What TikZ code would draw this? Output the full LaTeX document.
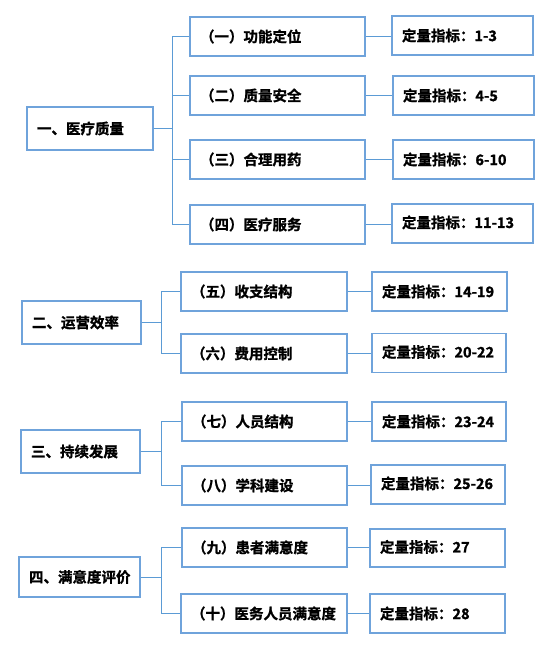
\documentclass[tikz,border=0pt]{standalone}
\usepackage{fontspec}
\setmainfont{Noto Sans CJK SC Bold}
\newfontfamily\cjkbold[FakeBold=1.2]{Noto Sans CJK SC Bold}
\definecolor{boxblue}{HTML}{6FA3DB}
\definecolor{lineblue}{HTML}{5B9BD5}
\tikzset{
  bx/.style={draw=boxblue, line width=1.5pt, rectangle, inner sep=0pt, inner xsep=10pt,
    minimum height=39pt, align=left, font=\cjkbold\fontsize{14.5}{16}\selectfont},
  mainbox/.style={bx, minimum height=43pt},
  conn/.style={draw=lineblue, line width=1pt}
}
\newcommand{\up}[1]{\raisebox{3.5pt}{#1}}
\begin{document}
\begin{tikzpicture}[x=1pt,y=-1pt]
\useasboundingbox (0,0) rectangle (551,667);
% group 1
\node[mainbox, text width=106pt, minimum width=126pt] (M1) at (90,128.5) {一、医疗质量};
\node[bx, text width=155pt, minimum width=175pt] (S1) at (277.5,36.5) {（一）功能定位};
\node[bx, text width=155pt, minimum width=175pt] (S2) at (277.5,95.5) {（二）质量安全};
\node[bx, text width=155pt, minimum width=175pt] (S3) at (277.5,159.5) {（三）合理用药};
\node[bx, text width=155pt, minimum width=175pt] (S4) at (277.5,224.5) {（四）医疗服务};
\node[bx, text width=121pt, minimum width=141pt] (R1) at (462.5,35.5) {定量指标：1-3};
\node[bx, text width=121pt, minimum width=141pt] (R2) at (463.5,95.5) {定量指标：4-5};
\node[bx, text width=121pt, minimum width=141pt] (R3) at (463.5,159.5) {定量指标：6-10};
\node[bx, text width=121pt, minimum width=141pt] (R4) at (462.5,223.5) {\up{定量指标：11-13}};
\coordinate (b1) at (172,128.5);
% group 2
\node[mainbox, text width=99pt, minimum width=119pt] (M2) at (81.5,322.5) {二、运营效率};
\node[bx, text width=146pt, minimum width=166pt] (S5) at (264,291.5) {（五）收支结构};
\node[bx, text width=146pt, minimum width=166pt] (S6) at (264,353.5) {（六）费用控制};
\node[bx, text width=115pt, minimum width=135pt] (R5) at (439.5,291.5) {定量指标：14-19};
\node[bx, text width=114pt, minimum width=134pt] (R6) at (439,353) {\up{定量指标：20-22}};
\coordinate (b2) at (161,322.5);
% group 3
\node[mainbox, text width=99pt, minimum width=119pt] (M3) at (80.5,451.5) {三、持续发展};
\node[bx, text width=145pt, minimum width=165pt] (S7) at (264.5,421.5) {（七）人员结构};
\node[bx, text width=145pt, minimum width=165pt] (S8) at (264.5,485.5) {（八）学科建设};
\node[bx, text width=114pt, minimum width=134pt] (R7) at (439,421.5) {定量指标：23-24};
\node[bx, text width=114pt, minimum width=134pt] (R8) at (438,484.5) {\up{定量指标：25-26}};
\coordinate (b3) at (161,451.5);
% group 4
\node[mainbox, minimum height=40pt, text width=101pt, minimum width=121pt] (M4) at (79.5,577) {四、满意度评价};
\node[bx, text width=145pt, minimum width=165pt] (S9) at (264.5,547.5) {（九）患者满意度};
\node[bx, text width=146pt, minimum width=166pt] (S10) at (264,613.5) {（十）医务人员满意度};
\node[bx, minimum height=38pt, text width=115pt, minimum width=135pt] (R9) at (437.5,548) {\up{定量指标：27}};
\node[bx, text width=115pt, minimum width=135pt] (R10) at (437.5,613.5) {定量指标：28};
\coordinate (b4) at (161,577);
% connectors
\foreach \s in {S1,S2,S3,S4}{\draw[conn] (M1.east) -- (b1) |- (\s.west);}
\foreach \s in {S5,S6}{\draw[conn] (M2.east) -- (b2) |- (\s.west);}
\foreach \s in {S7,S8}{\draw[conn] (M3.east) -- (b3) |- (\s.west);}
\foreach \s in {S9,S10}{\draw[conn] (M4.east) -- (b4) |- (\s.west);}
\foreach \a/\b in {S1/R1,S2/R2,S3/R3,S4/R4,S5/R5,S6/R6,S7/R7,S8/R8,S9/R9,S10/R10}{
  \draw[conn] (\a.east) -- (\a.east -| \b.west);}
\end{tikzpicture}
\end{document}
